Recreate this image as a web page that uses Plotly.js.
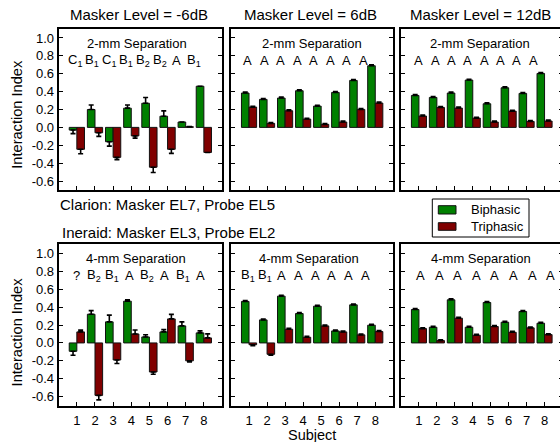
<!DOCTYPE html>
<html>
<head>
<meta charset="utf-8">
<script src="https://cdn.plot.ly/plotly-3.0.1.min.js"></script>
<style>
  html, body { margin: 0; padding: 0; background: #ffffff; overflow: hidden; }
  #chart { width: 566px; height: 442px; }
</style>
</head>
<body>
<div id="chart"></div>
<script>
// ---------------- DATA ----------------
const subjects = [1, 2, 3, 4, 5, 6, 7, 8];
const yTickVals = [-0.6, -0.4, -0.2, 0.0, 0.2, 0.4, 0.6, 0.8, 1.0];
const yTickText = ["-0.6", "-0.4", "-0.2", "0.0", "0.2", "0.4", "0.6", "0.8", "1.0"];
const columnTitles = ["Masker Level = -6dB", "Masker Level = 6dB", "Masker Level = 12dB"];
const rowTitles = ["2-mm Separation", "4-mm Separation"];
const seriesNames = ["Biphasic", "Triphasic"];

// 2-mm separation (Clarion)
const bi2mmM6 = [-0.03, 0.20, -0.16, 0.215, 0.27, 0.125, 0.06, 0.46];
const bi2mmM6Err = [0.04, 0.05, 0.05, 0.035, 0.065, 0.06, null, null];
const tri2mmM6 = [-0.245, -0.06, -0.335, -0.095, -0.445, -0.245, 0.008, -0.28];
const tri2mmM6Err = [0.05, 0.04, 0.025, 0.025, 0.06, 0.045, null, null];

const bi2mm6 = [0.384, 0.313, 0.328, 0.41, 0.238, 0.391, 0.525, 0.689];
const bi2mm6Err = [0.01, 0.01, 0.01, 0.01, 0.01, 0.01, 0.01, 0.01];
const tri2mm6 = [0.227, 0.045, 0.186, 0.093, 0.034, 0.06, 0.201, 0.272];
const tri2mm6Err = [0.01, 0.01, 0.01, 0.01, 0.01, 0.01, 0.01, 0.01];

const bi2mm12 = [0.357, 0.335, 0.384, 0.529, 0.264, 0.443, 0.38, 0.603];
const bi2mm12Err = [0.01, 0.01, 0.01, 0.01, 0.01, 0.01, 0.01, 0.01];
const tri2mm12 = [0.127, 0.223, 0.216, 0.104, 0.06, 0.182, 0.067, 0.071];
const tri2mm12Err = [0.01, 0.01, 0.01, 0.01, 0.01, 0.01, 0.01, 0.01];

// 4-mm separation (Ineraid)
const bi4mmM6 = [-0.093, 0.32, 0.235, 0.466, 0.067, 0.123, 0.19, 0.112];
const bi4mmM6Err = [0.045, 0.04, 0.075, 0.015, 0.025, 0.025, 0.045, 0.022];
const tri4mmM6 = [0.123, -0.585, -0.19, 0.10, -0.324, 0.268, -0.20, 0.056];
const tri4mmM6Err = [0.02, 0.05, 0.04, 0.045, 0.025, 0.05, 0.012, 0.045];

const bi4mm6 = [0.463, 0.257, 0.522, 0.328, 0.41, 0.134, 0.425, 0.198];
const bi4mm6Err = [0.01, 0.01, 0.01, 0.01, 0.01, 0.01, 0.01, 0.01];
const tri4mm6 = [-0.02, -0.127, 0.153, 0.063, 0.19, 0.123, 0.09, 0.127];
const tri4mm6Err = [0.01, 0.01, 0.01, 0.01, 0.01, 0.01, 0.01, 0.01];

const bi4mm12 = [0.373, 0.175, 0.481, 0.175, 0.451, 0.231, 0.351, 0.22];
const bi4mm12Err = [0.01, 0.01, 0.01, 0.01, 0.01, 0.01, 0.01, 0.01];
const tri4mm12 = [0.16, 0.026, 0.276, 0.086, 0.183, 0.119, 0.168, 0.093];
const tri4mm12Err = [0.01, 0.01, 0.01, 0.01, 0.01, 0.01, 0.01, 0.01];

// subject classification letters
const lab2mmM6 = ["C<sub>1</sub>", "B<sub>1</sub>", "C<sub>1</sub>", "B<sub>1</sub>", "B<sub>2</sub>", "B<sub>2</sub>", "A", "B<sub>1</sub>"];
const lab2mm6 = ["A", "A", "A", "A", "A", "A", "A", "A"];
const lab2mm12 = ["A", "A", "A", "A", "A", "A", "A", "A"];
const lab4mmM6 = ["?", "B<sub>2</sub>", "B<sub>1</sub>", "A", "B<sub>2</sub>", "A", "B<sub>1</sub>", "A"];
const lab4mm6 = ["B<sub>1</sub>", "B<sub>1</sub>", "A", "A", "A", "A", "A", "A"];
const lab4mm12 = ["A", "A", "A", "A", "A", "A", "A", "A"];

const deviceNotes = ["Clarion: Masker EL7, Probe EL5", "Ineraid: Masker EL3, Probe EL2"];

// ---------------- LAYOUT HELPERS ----------------
const W = 566, H = 442;
const FONT = "Liberation Sans, Arial, Helvetica, sans-serif";
const GREEN = "#008000", RED = "#800000";
const fx = px => px / W;
const fy = py => 1 - py / H;

const colPx = [[58.7, 222], [231, 393.3], [401, 562.5]];
const rowPx = [[29, 190], [244.3, 405.7]];

const panels = [
  { bi: bi2mmM6, biE: bi2mmM6Err, tri: tri2mmM6, triE: tri2mmM6Err, lab: lab2mmM6, labStart: 0.90, labStep: 0.934, sepX: 4.31 },
  { bi: bi2mm6, biE: bi2mm6Err, tri: tri2mm6, triE: tri2mm6Err, lab: lab2mm6, labStart: 0.926, labStep: 0.915, sepX: 4.48 },
  { bi: bi2mm12, biE: bi2mm12Err, tri: tri2mm12, triE: tri2mm12Err, lab: lab2mm12, labStart: 1.0, labStep: 0.91, sepX: 4.40 },
  { bi: bi4mmM6, biE: bi4mmM6Err, tri: tri4mmM6, triE: tri4mmM6Err, lab: lab4mmM6, labStart: 0.956, labStep: 0.979, sepX: 4.26 },
  { bi: bi4mm6, biE: bi4mm6Err, tri: tri4mm6, triE: tri4mm6Err, lab: lab4mm6, labStart: 0.96, labStep: 0.925, sepX: 4.35 },
  { bi: bi4mm12, biE: bi4mm12Err, tri: tri4mm12, triE: tri4mm12Err, lab: lab4mm12, labStart: 1.098, labStep: 1.035, sepX: 4.45 }
];

function errPlus(vals, errs) { return vals.map((v, i) => errs[i] == null ? null : (v >= 0 ? errs[i] : 0)); }
function errMinus(vals, errs) { return vals.map((v, i) => errs[i] == null ? null : (v < 0 ? errs[i] : 0)); }

const traces = [];
const layout = {
  width: W, height: H,
  margin: { l: 0, r: 0, t: 0, b: 0 },
  paper_bgcolor: "#ffffff", plot_bgcolor: "#ffffff",
  font: { family: FONT, size: 13, color: "#000" },
  barmode: "group", bargap: 0.16, bargroupgap: 0,
  showlegend: false,
  annotations: [], shapes: []
};

panels.forEach((p, idx) => {
  const k = idx + 1;
  const r = idx < 3 ? 0 : 1;
  const c = idx % 3;
  const xa = "x" + (k === 1 ? "" : k), ya = "y" + (k === 1 ? "" : k);
  [[p.bi, p.biE, GREEN, seriesNames[0]], [p.tri, p.triE, RED, seriesNames[1]]].forEach(([vals, errs, col, nm]) => {
    traces.push({
      type: "bar", x: subjects, y: vals, name: nm, xaxis: xa, yaxis: ya,
      marker: { color: col, line: { color: "#111", width: 1 } },
      error_y: { type: "data", symmetric: false, array: errPlus(vals, errs), arrayminus: errMinus(vals, errs),
                 color: "#000", thickness: 1.6, width: 2.5 },
      hoverinfo: "x+y+name"
    });
  });
  layout["xaxis" + (k === 1 ? "" : k)] = {
    domain: [fx(colPx[c][0]), fx(colPx[c][1])], anchor: ya, range: [0, 9],
    tickvals: subjects, ticktext: subjects.map(String), ticks: "inside", ticklen: 4, tickwidth: 1, tickcolor: "#000",
    showline: true, linewidth: 2, linecolor: "#000", mirror: true,
    showgrid: false, zeroline: false, showticklabels: r === 1, ticklabelstandoff: 2,
    tickfont: { family: FONT, size: 13, color: "#000" }, fixedrange: true
  };
  layout["yaxis" + (k === 1 ? "" : k)] = {
    domain: [fy(rowPx[r][1]), fy(rowPx[r][0])], anchor: xa, range: [-0.7, 1.1],
    tickvals: yTickVals, ticktext: yTickText, ticks: "inside", ticklen: 4, tickwidth: 1, tickcolor: "#000",
    showline: true, linewidth: 2, linecolor: "#000", mirror: "ticks",
    showgrid: false, zeroline: false, showticklabels: c === 0,
    tickfont: { family: FONT, size: 13, color: "#000" }, fixedrange: true
  };
  // separation title
  layout.annotations.push({ xref: xa, yref: ya, x: p.sepX, y: 0.94, text: rowTitles[r], showarrow: false,
    xanchor: "center", yanchor: "middle", font: { family: FONT, size: 13, color: "#000" } });
  // letters
  p.lab.forEach((t, i) => {
    layout.annotations.push({ xref: xa, yref: ya, x: p.labStart + i * p.labStep, y: 0.75, text: t, showarrow: false,
      xanchor: "center", yanchor: "middle", font: { family: FONT, size: 13, color: "#000" } });
  });
});

// column headers
columnTitles.forEach((t, c) => {
  layout.annotations.push({ xref: "paper", yref: "paper", x: fx((colPx[c][0] + colPx[c][1]) / 2 - 1.5), y: fy(15),
    text: t, showarrow: false, xanchor: "center", yanchor: "middle", font: { family: FONT, size: 15, color: "#000" } });
});
// y axis titles
[114, 331.7].forEach(cy => {
  layout.annotations.push({ xref: "paper", yref: "paper", x: fx(16.7), y: fy(cy), text: "Interaction Index",
    textangle: -90, showarrow: false, xanchor: "center", yanchor: "middle", font: { family: FONT, size: 14.6, color: "#000" } });
});
// x axis title
layout.annotations.push({ xref: "paper", yref: "paper", x: fx(312.3), y: fy(435), text: "Subject", showarrow: false,
  xanchor: "center", yanchor: "middle", font: { family: FONT, size: 14.5, color: "#000" } });
// device notes
layout.annotations.push({ xref: "paper", yref: "paper", x: fx(58.3), y: fy(204), text: deviceNotes[0], showarrow: false,
  xanchor: "left", yanchor: "middle", font: { family: FONT, size: 15, color: "#000" } });
layout.annotations.push({ xref: "paper", yref: "paper", x: fx(60), y: fy(232.3), text: deviceNotes[1], showarrow: false,
  xanchor: "left", yanchor: "middle", font: { family: FONT, size: 15, color: "#000" } });

// legend (drawn manually)
layout.shapes.push({ type: "rect", xref: "paper", yref: "paper", x0: fx(432.3), x1: fx(529), y0: fy(237), y1: fy(199),
  line: { color: "#000", width: 1 }, fillcolor: "#fff", layer: "above" });
layout.shapes.push({ type: "rect", xref: "paper", yref: "paper", x0: fx(438.3), x1: fx(456), y0: fy(214), y1: fy(205.7),
  line: { color: "#111", width: 1 }, fillcolor: GREEN, layer: "above" });
layout.shapes.push({ type: "rect", xref: "paper", yref: "paper", x0: fx(438.3), x1: fx(456), y0: fy(230.3), y1: fy(222.7),
  line: { color: "#111", width: 1 }, fillcolor: RED, layer: "above" });
layout.annotations.push({ xref: "paper", yref: "paper", x: fx(469.3), y: fy(209.5), text: seriesNames[0], showarrow: false,
  xanchor: "left", yanchor: "middle", font: { family: FONT, size: 13, color: "#000" } });
layout.annotations.push({ xref: "paper", yref: "paper", x: fx(469.3), y: fy(226.7), text: seriesNames[1], showarrow: false,
  xanchor: "left", yanchor: "middle", font: { family: FONT, size: 13, color: "#000" } });

Plotly.newPlot("chart", traces, layout, { staticPlot: true, displayModeBar: false });
</script>
</body>
</html>
